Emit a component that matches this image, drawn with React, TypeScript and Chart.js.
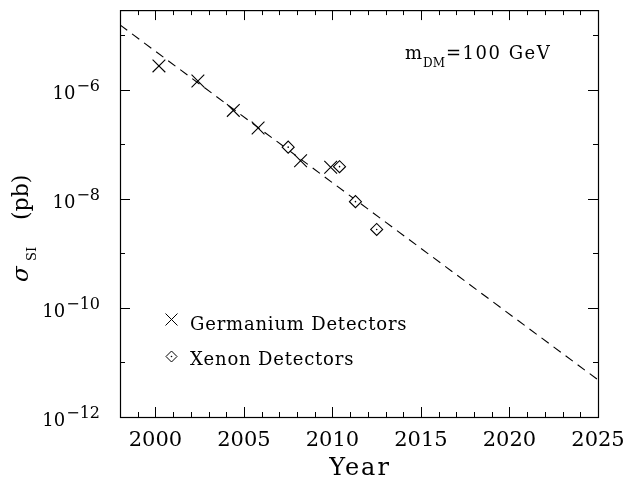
import React, { useEffect, useRef } from "react";
import { Chart, registerables } from "chart.js";

Chart.register(...registerables);

const FONT = '"DejaVu Serif", "Liberation Serif", serif';

// Germanium detector limits (year, sigma_SI in pb)
const geYears = [2000.2, 2002.4, 2004.4, 2005.8, 2008.2, 2009.9];
const geSigma = [2.75e-6, 1.45e-6, 4.2e-7, 2.0e-7, 5.0e-8, 3.8e-8];

// Xenon detector limits
const xeYears = [2007.5, 2010.4, 2011.3, 2012.5];
const xeSigma = [8.9e-8, 3.9e-8, 8.9e-9, 2.75e-9];

// Dashed trend line end points
const fitYears = [1998, 2025];
const fitSigma = [1.55e-5, 4.8e-12];

// Axes
const xRange = [1998, 2025];
const yRange = [1e-12, 2.9e-5];
const xTickYears = [2000, 2005, 2010, 2015, 2020, 2025];
const yTickExponents = [-12, -10, -8, -6];

const legendLabels = ["Germanium Detectors", "Xenon Detectors"];
const massLabelMain = "m";
const massLabelSub = "DM";
const massLabelRest = "=100 GeV";
const xTitle = "Year";
const yTitleSymbol = "σ";
const yTitleSub = "SI";
const yTitleUnit = "(pb)";

const toPoints = (xs: number[], ys: number[]) => xs.map((x, i) => ({ x, y: ys[i] }));

const drawCross = (ctx: CanvasRenderingContext2D, x: number, y: number, h: number) => {
  ctx.beginPath();
  ctx.moveTo(x - h, y - h);
  ctx.lineTo(x + h, y + h);
  ctx.moveTo(x - h, y + h);
  ctx.lineTo(x + h, y - h);
  ctx.stroke();
};

const drawDiamond = (ctx: CanvasRenderingContext2D, x: number, y: number, h: number) => {
  ctx.beginPath();
  ctx.moveTo(x - h, y);
  ctx.lineTo(x, y - h);
  ctx.lineTo(x + h, y);
  ctx.lineTo(x, y + h);
  ctx.closePath();
  ctx.stroke();
  ctx.beginPath();
  ctx.arc(x, y, 0.8, 0, Math.PI * 2);
  ctx.fill();
};

const setSpacing = (ctx: any, s: string) => {
  if ("letterSpacing" in ctx) ctx.letterSpacing = s;
};

const framePlugin = {
  id: "framePlugin",
  afterDraw(chart: any) {
    const { ctx, chartArea: a, scales } = chart;
    const xs = scales.x;
    const ys = scales.y;
    ctx.save();
    ctx.strokeStyle = "#000";
    ctx.fillStyle = "#000";
    ctx.lineWidth = 1.2;
    ctx.setLineDash([]);
    ctx.strokeRect(a.left + 0.5, a.top + 0.5, a.right - a.left, a.bottom - a.top);

    // x ticks (inside, top and bottom)
    ctx.lineWidth = 1;
    ctx.beginPath();
    for (let yr = xRange[0]; yr <= xRange[1]; yr++) {
      const px = Math.round(xs.getPixelForValue(yr)) + 0.5;
      const len = yr % 5 === 0 ? 10 : 5;
      ctx.moveTo(px, a.bottom);
      ctx.lineTo(px, a.bottom - len);
      ctx.moveTo(px, a.top);
      ctx.lineTo(px, a.top + len);
    }
    // y ticks (inside, left and right)
    for (let e = -12; e <= -5; e++) {
      const py = Math.round(ys.getPixelForValue(Math.pow(10, e))) + 0.5;
      const len = e % 2 === 0 ? 10 : 5;
      ctx.moveTo(a.left, py);
      ctx.lineTo(a.left + len, py);
      ctx.moveTo(a.right, py);
      ctx.lineTo(a.right - len, py);
    }
    ctx.stroke();

    // x tick labels
    ctx.font = `21px ${FONT}`;
    ctx.textAlign = "center";
    ctx.textBaseline = "alphabetic";
    xTickYears.forEach((yr) => {
      ctx.fillText(String(yr), xs.getPixelForValue(yr), a.bottom + 29);
    });

    // y tick labels 10^e
    yTickExponents.forEach((e) => {
      const py = ys.getPixelForValue(Math.pow(10, e));
      const expStr = "\u2212" + Math.abs(e);
      ctx.font = `16px ${FONT}`;
      const ew = ctx.measureText(expStr).width;
      const right = a.left - 20;
      ctx.textAlign = "left";
      ctx.fillText(expStr, right - ew, py + 1);
      ctx.font = `18px ${FONT}`;
      ctx.textAlign = "right";
      ctx.fillText("10", right - ew - 1, py + 9);
    });

    // x title
    ctx.font = `24px ${FONT}`;
    ctx.textAlign = "left";
    setSpacing(ctx, "2px");
    const tw = ctx.measureText(xTitle).width;
    ctx.fillText(xTitle, (a.left + a.right) / 2 - tw / 2 + 1, 475);
    setSpacing(ctx, "0px");

    // y title (rotated)
    ctx.save();
    ctx.translate(28, 282);
    ctx.rotate(-Math.PI / 2);
    ctx.textAlign = "left";
    ctx.font = `italic 23px ${FONT}`;
    ctx.fillText(yTitleSymbol, 0, 0);
    ctx.font = `13px ${FONT}`;
    ctx.fillText(yTitleSub, 21, 8);
    ctx.font = `22px ${FONT}`;
    ctx.fillText(yTitleUnit, 62, 0);
    ctx.restore();

    // mass annotation
    ctx.textAlign = "left";
    ctx.font = `18px ${FONT}`;
    ctx.fillText(massLabelMain, 405, 59);
    const mw = ctx.measureText(massLabelMain).width;
    ctx.font = `12px ${FONT}`;
    ctx.fillText(massLabelSub, 405 + mw + 1, 67);
    const dw = ctx.measureText(massLabelSub).width;
    ctx.font = `18px ${FONT}`;
    setSpacing(ctx, "1.5px");
    ctx.fillText(massLabelRest, 405 + mw + dw + 2, 59);

    // legend
    ctx.lineWidth = 1;
    drawCross(ctx, 171.5, 319.5, 6);
    drawDiamond(ctx, 171.5, 356.5, 5.5);
    ctx.font = `18px ${FONT}`;
    setSpacing(ctx, "0.8px");
    ctx.fillText(legendLabels[0], 190, 330);
    ctx.fillText(legendLabels[1], 190, 365);
    setSpacing(ctx, "0px");
    ctx.restore();
  },
};

export default function App() {
  const canvasRef = useRef<HTMLCanvasElement | null>(null);

  useEffect(() => {
    if (!canvasRef.current) return;
    const chart = new Chart(canvasRef.current, {
      type: "scatter",
      data: {
        datasets: [
          {
            label: "Xenon centre",
            data: toPoints(xeYears, xeSigma),
            pointStyle: "circle",
            pointRadius: 0.8,
            pointBackgroundColor: "#000",
            pointBorderWidth: 0,
            order: 0,
          },
          {
            label: legendLabels[1],
            data: toPoints(xeYears, xeSigma),
            pointStyle: "rectRot",
            pointRadius: 6,
            pointBorderColor: "#000",
            pointBackgroundColor: "#fff",
            pointBorderWidth: 1.1,
            order: 1,
          },
          {
            label: legendLabels[0],
            data: toPoints(geYears, geSigma),
            pointStyle: "crossRot",
            pointRadius: 9,
            pointBorderColor: "#000",
            pointBorderWidth: 1.1,
            order: 2,
          },
          {
            label: "Trend",
            data: toPoints(fitYears, fitSigma),
            showLine: true,
            borderColor: "#000",
            borderWidth: 1.1,
            borderDash: [9, 6],
            pointRadius: 0,
            order: 3,
          } as any,
        ],
      },
      options: {
        animation: false,
        responsive: true,
        maintainAspectRatio: false,
        layout: { padding: { left: 120, top: 9, right: 38, bottom: 64 } },
        plugins: {
          legend: { display: false },
          tooltip: { enabled: false },
        },
        scales: {
          x: { type: "linear", min: xRange[0], max: xRange[1], display: false },
          y: { type: "logarithmic", min: yRange[0], max: yRange[1], display: false },
        },
      },
      plugins: [framePlugin],
    });
    return () => chart.destroy();
  }, []);

  return (
    <div style={{ position: "fixed", left: 0, top: 0, width: 636, height: 481, background: "#fff" }}>
      <canvas ref={canvasRef} />
    </div>
  );
}
